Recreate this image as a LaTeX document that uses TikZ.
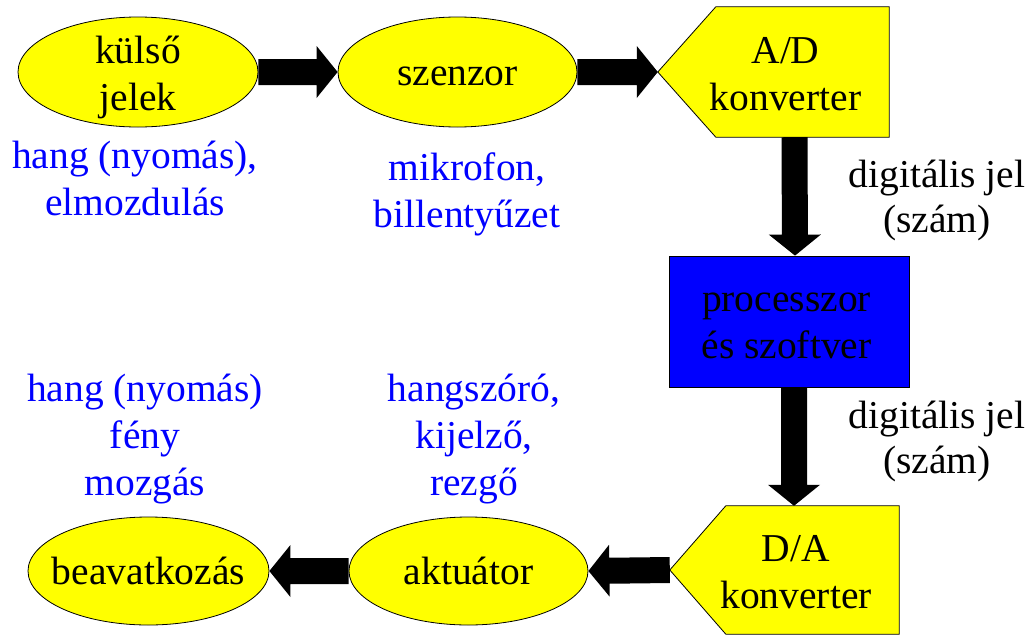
\documentclass[tikz,border=0pt]{standalone}
\usepackage{fontspec}
\setmainfont{Liberation Serif}
\usetikzlibrary{shapes.geometric,calc}
\definecolor{yel}{RGB}{255,255,0}
\definecolor{pblue}{RGB}{0,0,255}
\newcommand{\fatarrow}[2]{%
  \coordinate (fa-s) at (#1);
  \coordinate (fa-e) at (#2);
  \coordinate (fa-h) at ($(fa-e)!21pt!(fa-s)$);
  \fill[black] ($(fa-s)!13pt!90:(fa-e)$) -- ($(fa-h)!13pt!90:(fa-e)$) -- ($(fa-h)!26pt!90:(fa-e)$) -- (fa-e)
    -- ($(fa-h)!26pt!-90:(fa-e)$) -- ($(fa-h)!13pt!-90:(fa-e)$) -- ($(fa-s)!13pt!-90:(fa-e)$) -- cycle;}
\tikzset{
  oval/.style={ellipse, draw=black, line width=0.8pt, fill=yel, minimum width=240pt, minimum height=110pt, inner sep=0pt},
  maintext/.style={font=\fontsize{39.5}{47}\selectfont, align=center, inner sep=0pt, text=black, anchor=base},
  bluetext/.style={font=\fontsize{39.5}{47}\selectfont, align=center, inner sep=0pt, text=pblue, anchor=base},
  sidetext/.style={font=\fontsize{39.5}{45}\selectfont, align=center, inner sep=0pt, text=black, anchor=base},
  tagbox/.style={rectangle, inner sep=0pt, minimum width=173pt},
  tagline/.style={draw=black, line width=0.8pt, fill=yel},
}
\begin{document}
\begin{tikzpicture}[x=1pt,y=-1pt]
\useasboundingbox (0,0) rectangle (1034,635);
% ovals
\node[oval] (kulso) at (138,72) {};
\node[maintext] at ($(kulso)+(0,38)$) {külső\\jelek};
\node[oval, minimum width=239pt] (szenzor) at (457.5,72) {};
\node[maintext] at ($(szenzor)+(0,13)$) {szenzor};
\node[oval, minimum width=241pt, minimum height=108pt] (beav) at (148.5,571) {};
\node[maintext] at ($(beav)+(0,13)$) {beavatkozás};
\node[oval, minimum width=239pt, minimum height=108pt] (akt) at (468.5,571) {};
\node[maintext] at ($(akt)+(0,13)$) {aktuátor};
% A/D converter
\node[tagbox, minimum height=130pt] (ad) at (802.5,72) {};
\coordinate (adtip) at ([xshift=-58pt]ad.west);
\draw[tagline] (ad.north west) -- (ad.north east) -- (ad.south east) -- (ad.south west) -- (adtip) -- cycle;
\node[maintext] at ($(ad)+(-17,38)$) {A/D\\konverter};
% processor
\node[rectangle, draw=black, line width=0.8pt, fill=pblue, minimum width=240pt, minimum height=131pt, inner sep=0pt] (proc) at (789,321.5) {};
\node[maintext] at ($(proc)+(-2.5,36.5)$) {processzor\\és szoftver};
% D/A converter
\node[tagbox, minimum height=128pt] (da) at (812.5,570) {};
\coordinate (datip) at ([xshift=-56pt]da.west);
\draw[tagline] (da.north west) -- (da.north east) -- (da.south east) -- (da.south west) -- (datip) -- cycle;
\node[maintext] at ($(da)+(-16.5,38)$) {D/A\\konverter};
% connectors
\fatarrow{kulso.east}{szenzor.west}
\fatarrow{szenzor.east}{adtip}
\fatarrow{$(ad.south)+(-8,0)$}{$(proc.north)+(6,0)$}
\fatarrow{$(proc.south)+(5,0)$}{$(da.north)+(-18.5,0)$}
\fatarrow{datip}{akt.east}
\fatarrow{akt.west}{beav.east}
% labels
\node[bluetext] (l1) at (135,215) {hang (nyomás),\\elmozdulás};
\node[bluetext] (l2) at (467,227) {mikrofon,\\billentyűzet};
\node[bluetext] (l3) at (145,495) {hang (nyomás)\\fény\\mozgás};
\node[bluetext] (l4) at (474,495) {hangszóró,\\kijelző,\\rezgő};
\node[sidetext] (d1) at (937,232) {digitális jel\\(szám)};
\node[sidetext] (d2) at (937,473) {digitális jel\\(szám)};
\end{tikzpicture}
\end{document}
